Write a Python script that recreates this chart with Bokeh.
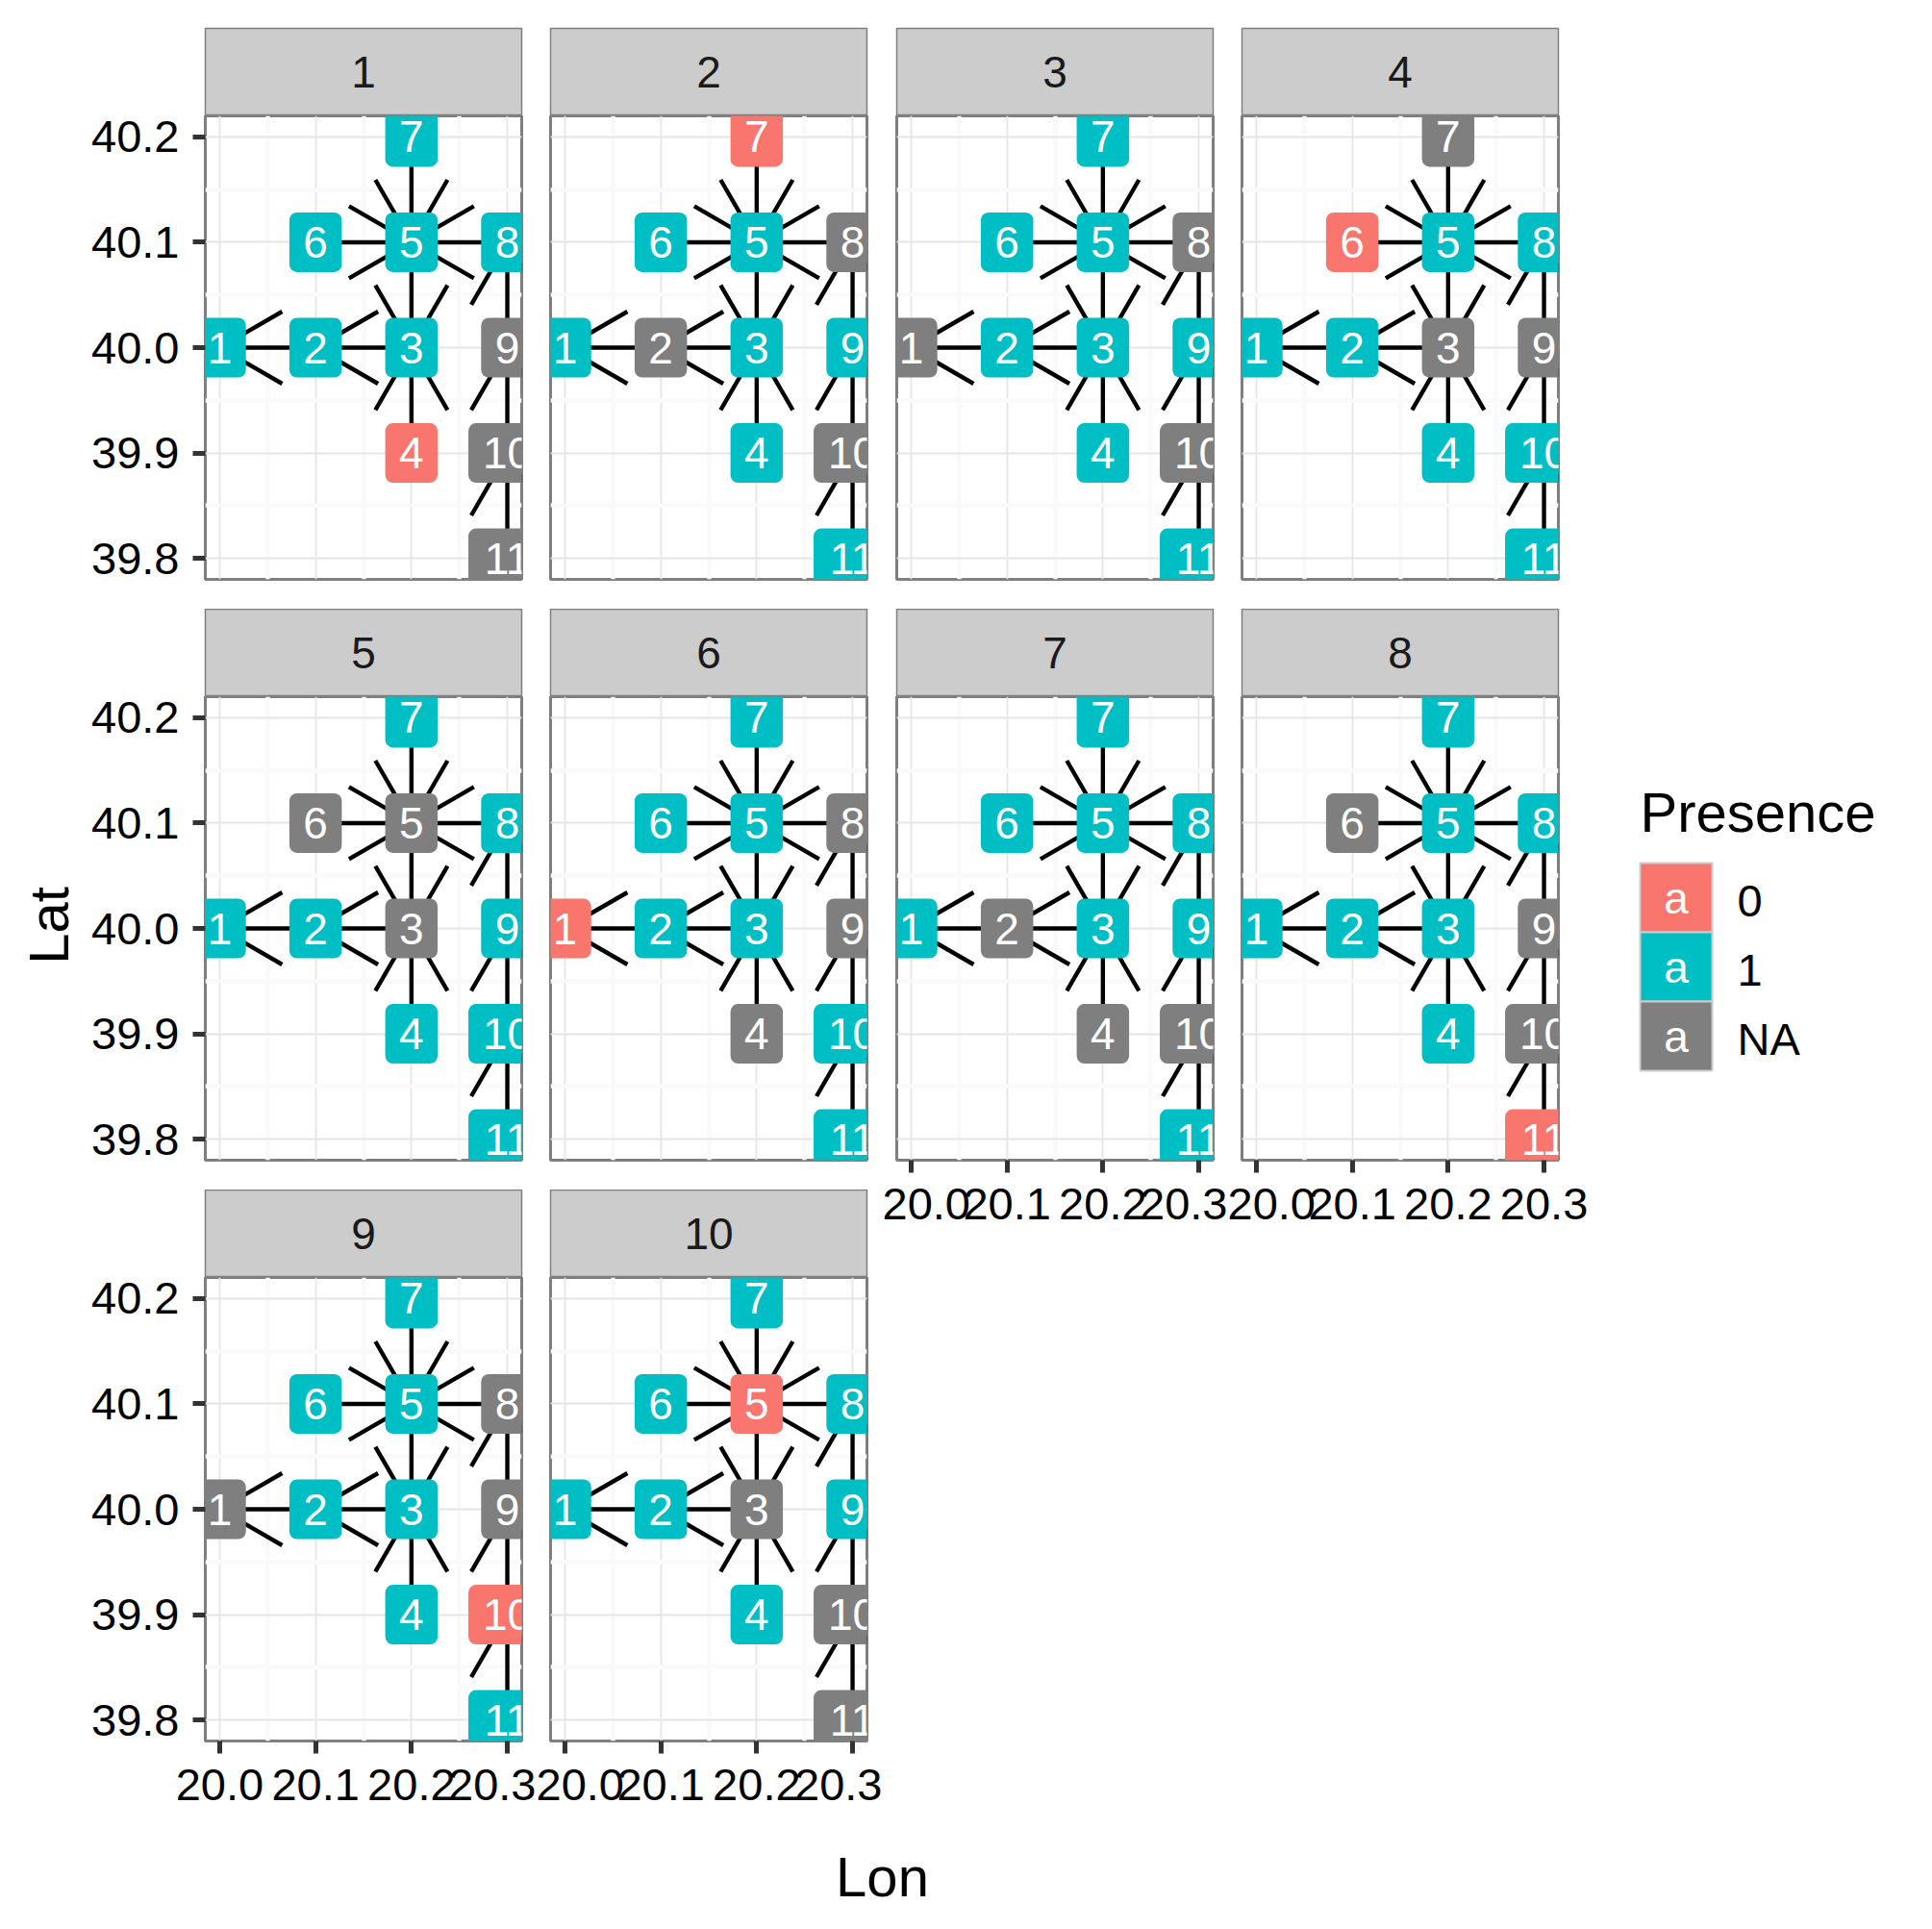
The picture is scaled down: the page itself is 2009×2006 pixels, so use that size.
import math
from bokeh.plotting import figure
from bokeh.models import Range1d, LinearAxis, FixedTicker, PrintfTickFormatter
from bokeh.layouts import row, column
from bokeh.embed import file_html
from bokeh.resources import INLINE
from bokeh.core.properties import value

# ---------------- data ----------------
node_id = ["1", "2", "3", "4", "5", "6", "7", "8", "9", "10", "11"]
node_lon = [20.0, 20.1, 20.2, 20.2, 20.2, 20.1, 20.2, 20.3, 20.3, 20.3, 20.3]
node_lat = [40.0, 40.0, 40.0, 39.9, 40.1, 40.1, 40.2, 40.1, 40.0, 39.9, 39.8]

edge_from = ["11", "10", "9", "8", "6", "7", "5", "4", "3", "2"]
edge_to = ["10", "9", "8", "5", "5", "5", "3", "3", "2", "1"]

presence_1 = ["1", "1", "1", "0", "1", "1", "1", "1", "NA", "NA", "NA"]
presence_2 = ["1", "NA", "1", "1", "1", "1", "0", "NA", "1", "NA", "1"]
presence_3 = ["NA", "1", "1", "1", "1", "1", "1", "NA", "1", "NA", "1"]
presence_4 = ["1", "1", "NA", "1", "1", "0", "NA", "1", "NA", "1", "1"]
presence_5 = ["1", "1", "NA", "1", "NA", "NA", "1", "1", "1", "1", "1"]
presence_6 = ["0", "1", "1", "NA", "1", "1", "1", "NA", "NA", "1", "1"]
presence_7 = ["1", "NA", "1", "NA", "1", "1", "1", "1", "1", "NA", "1"]
presence_8 = ["1", "1", "1", "1", "1", "NA", "1", "1", "NA", "NA", "0"]
presence_9 = ["NA", "1", "1", "1", "1", "1", "1", "NA", "NA", "0", "1"]
presence_10 = ["1", "1", "NA", "1", "0", "1", "1", "1", "1", "NA", "NA"]

panel_labels = ["1", "2", "3", "4", "5", "6", "7", "8", "9", "10"]
panel_presence = [presence_1, presence_2, presence_3, presence_4, presence_5,
                  presence_6, presence_7, presence_8, presence_9, presence_10]

lon_ticks = [20.0, 20.1, 20.2, 20.3]
lon_minor = [20.05, 20.15, 20.25]
lat_ticks = [39.8, 39.9, 40.0, 40.1, 40.2]
lat_minor = [39.85, 39.95, 40.05, 40.15]

legend_levels = ["0", "1", "NA"]
level_colors = {"0": "#F8766D", "1": "#00BFC4", "NA": "#7F7F7F"}

# ---------------- style / layout ----------------
FONT = "Liberation Sans"
FW, FH = 329, 482          # panel frame size
STRIP_H = 91
TOP = 29
GAP = 31
TOTAL_H = 1900
NCOL = 4
LAT_W = 90
LEG_X0 = 1670
PAGE_W = 2009
# per-column borders (left, right) around the 329-px frame
COL_BORDERS = [(123, 15), (15, 16), (15, 15), (15, 50)]

lon_pad = 0.05 * (max(node_lon) - min(node_lon))
lat_pad = 0.05 * (max(node_lat) - min(node_lat))
X0, X1 = min(node_lon) - lon_pad, max(node_lon) + lon_pad
Y0, Y1 = min(node_lat) - lat_pad, max(node_lat) + lat_pad
PX_X = FW / (X1 - X0)
PX_Y = FH / (Y1 - Y0)

ARROW_LEN = 75.0
ARROW_ANG = math.radians(30)

idx = {n: i for i, n in enumerate(node_id)}


def style_axis(ax, ticks, standoff):
    ax.ticker = FixedTicker(ticks=ticks)
    ax.formatter = PrintfTickFormatter(format="%.1f")
    ax.axis_line_color = None
    ax.major_tick_in = 0
    ax.major_tick_out = 13
    ax.minor_tick_in = 0
    ax.minor_tick_out = 0
    ax.major_tick_line_color = "#333333"
    ax.major_tick_line_width = 5
    ax.major_label_text_font = FONT
    ax.major_label_text_font_size = "47px"
    ax.major_label_text_color = "black"
    ax.major_label_standoff = standoff


def strip_fig(label, col, first):
    left, right = COL_BORDERS[col]
    top = TOP if first else 0
    s = figure(width=left + FW + right, height=STRIP_H + top,
               x_range=Range1d(0, 1), y_range=Range1d(0, 1),
               x_axis_location=None, y_axis_location=None,
               toolbar_location=None, output_backend="svg",
               min_border_left=left, min_border_right=right,
               min_border_top=top, min_border_bottom=0,
               background_fill_color="#CCCCCC", border_fill_color="white",
               outline_line_color="#7F7F7F", outline_line_width=1.5)
    s.xgrid.visible = False
    s.ygrid.visible = False
    s.text(x=[0.5], y=[0.5], text=[label], text_font=value(FONT),
           text_font_size="46px", text_color="#1A1A1A",
           text_align="center", text_baseline="middle")
    return s


def panel_fig(k, col, bottom, y_axis, x_axis):
    left, right = COL_BORDERS[col]
    p = figure(width=left + FW + right, height=FH + bottom,
               x_range=Range1d(X0, X1), y_range=Range1d(Y0, Y1),
               x_axis_location=None, y_axis_location=None,
               toolbar_location=None, output_backend="svg",
               min_border_left=left, min_border_right=right,
               min_border_top=0, min_border_bottom=bottom,
               background_fill_color="white", border_fill_color="white",
               outline_line_color="#7F7F7F", outline_line_width=3)
    p.xgrid.ticker = FixedTicker(ticks=lon_ticks, minor_ticks=lon_minor)
    p.ygrid.ticker = FixedTicker(ticks=lat_ticks, minor_ticks=lat_minor)
    for g in (p.xgrid, p.ygrid):
        g.grid_line_color = "#E5E5E5"
        g.grid_line_width = 1.8
        g.minor_grid_line_color = "#FAFAFA"
        g.minor_grid_line_width = 4.4
    if y_axis:
        ax = LinearAxis()
        style_axis(ax, lat_ticks, 14)
        p.add_layout(ax, "left")
    if x_axis:
        ax = LinearAxis()
        style_axis(ax, lon_ticks, 16)
        p.add_layout(ax, "below")

    # edges
    fx = [node_lon[idx[a]] for a in edge_from]
    fy = [node_lat[idx[a]] for a in edge_from]
    tx = [node_lon[idx[b]] for b in edge_to]
    ty = [node_lat[idx[b]] for b in edge_to]
    p.segment(x0=fx, y0=fy, x1=tx, y1=ty, line_color="black", line_width=4.4)

    # open arrow heads at the downstream end
    xs, ys = [], []
    for x_a, y_a, x_b, y_b in zip(fx, fy, tx, ty):
        ang = math.atan2((y_a - y_b) * PX_Y, (x_a - x_b) * PX_X)
        pts = []
        for sgn in (1, -1):
            a = ang + sgn * ARROW_ANG
            pts.append((x_b + ARROW_LEN * math.cos(a) / PX_X,
                        y_b + ARROW_LEN * math.sin(a) / PX_Y))
        xs.append([pts[0][0], x_b, pts[1][0]])
        ys.append([pts[0][1], y_b, pts[1][1]])
    p.multi_line(xs=xs, ys=ys, line_color="black", line_width=4.4)

    # labels
    pres = panel_presence[k]
    cols = [level_colors[v] for v in pres]
    widths = [28 + 26.5 * len(n) for n in node_id]
    p.rect(x=node_lon, y=node_lat, width=widths, height=62,
           width_units="screen", height_units="screen",
           fill_color=cols, line_color=None, border_radius=8)
    p.text(x=node_lon, y=node_lat, text=node_id, text_font=value(FONT),
           text_font_size="46px", text_color="white",
           text_align="center", text_baseline="middle")
    return p


# rows per column
nrows_in_col = [3, 3, 2, 2]
columns = []
for c in range(NCOL):
    items = []
    used = 0
    n_r = nrows_in_col[c]
    for r in range(n_r):
        k = r * NCOL + c
        items.append(strip_fig(panel_labels[k], c, r == 0))
        used += STRIP_H + (TOP if r == 0 else 0)
        last = (r == n_r - 1)
        if last:
            bottom = TOTAL_H - used - FH
        else:
            bottom = GAP
        items.append(panel_fig(k, c, bottom, c == 0, last))
        used += FH + bottom
    columns.append(column(*items, spacing=0))

# y-axis title
lat_fig = figure(width=LAT_W, height=TOTAL_H, x_range=Range1d(0, LAT_W),
                 y_range=Range1d(0, TOTAL_H), x_axis_location=None, y_axis_location=None,
                 toolbar_location=None, output_backend="svg", min_border=0,
                 outline_line_color=None)
lat_fig.xgrid.visible = False
lat_fig.ygrid.visible = False
lat_fig.text(x=[50], y=[TOTAL_H - 962], text=["Lat"], angle=math.pi / 2,
             text_font=value(FONT), text_font_size="58px", text_color="black",
             text_align="center", text_baseline="middle")

# legend
LEG_W = PAGE_W - LEG_X0
leg = figure(width=LEG_W, height=TOTAL_H, x_range=Range1d(LEG_X0, PAGE_W),
             y_range=Range1d(TOTAL_H, 0), x_axis_location=None, y_axis_location=None,
             toolbar_location=None, output_backend="svg", min_border=0,
             outline_line_color=None)
leg.xgrid.visible = False
leg.ygrid.visible = False
leg.text(x=[1705], y=[844], text=["Presence"], text_font=value(FONT),
         text_font_size="58px", text_color="black", text_align="left",
         text_baseline="middle")
key_y = [933 + 72 * i for i in range(len(legend_levels))]
leg.rect(x=[1742.5] * len(legend_levels), y=key_y, width=75, height=72,
         fill_color=[level_colors[v] for v in legend_levels],
         line_color="#CCCCCC", line_width=2)
leg.text(x=[1742.5] * len(legend_levels), y=key_y, text=["a"] * len(legend_levels),
         text_font=value(FONT), text_font_size="46px", text_color="white",
         text_align="center", text_baseline="middle")
leg.text(x=[1806] * len(legend_levels), y=[v + 3 for v in key_y], text=legend_levels,
         text_font=value(FONT), text_font_size="47px", text_color="black",
         text_align="left", text_baseline="middle")

# x-axis title
LON_H = 2006 - TOTAL_H
lon_fig = figure(width=PAGE_W, height=LON_H, x_range=Range1d(0, PAGE_W),
                 y_range=Range1d(0, LON_H), x_axis_location=None,
                 y_axis_location=None, toolbar_location=None, output_backend="svg",
                 min_border=0, outline_line_color=None)
lon_fig.xgrid.visible = False
lon_fig.ygrid.visible = False
lon_fig.text(x=[917], y=[2006 - 1951], text=["Lon"], text_font=value(FONT),
             text_font_size="58px", text_color="black", text_align="center",
             text_baseline="middle")

layout = column(row(lat_fig, *columns, leg, spacing=0), lon_fig, spacing=0)

open("out.html", "w").write(file_html(layout, INLINE))
